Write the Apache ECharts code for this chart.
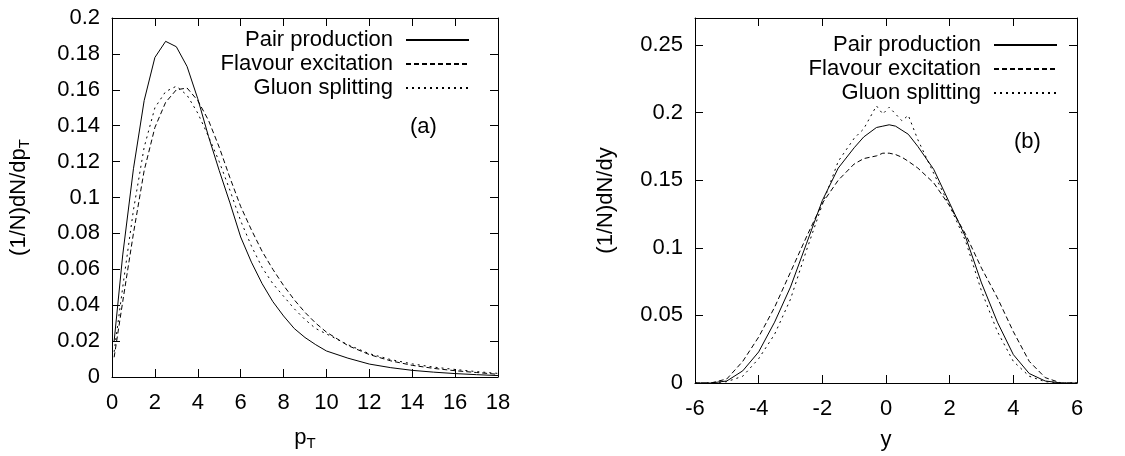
<!DOCTYPE html>
<html>
<head>
<meta charset="utf-8">
<script src="https://cdn.jsdelivr.net/npm/echarts@6/dist/echarts.min.js"></script>
<style>
html,body{margin:0;padding:0;background:#fff;}
#chart{width:1125px;height:456px;}
</style>
</head>
<body>
<div id="chart"></div>
<script>
// ---- Data ----
const seriesNames = ['Pair production', 'Flavour excitation', 'Gluon splitting'];

// Panel (a): pT distribution
const ptValues = [0.1, 0.5, 1, 1.5, 2, 2.5, 3, 3.5, 4, 4.5, 5, 5.5, 6, 6.5, 7, 7.5, 8, 8.5, 9, 9.5, 10, 11, 12, 13, 14, 15, 16, 17, 18];
const pairPt = [0.020, 0.068, 0.116, 0.154, 0.178, 0.187, 0.184, 0.173, 0.155, 0.134, 0.115, 0.097, 0.078, 0.064, 0.052, 0.042, 0.034, 0.027, 0.022, 0.018, 0.0145, 0.0105, 0.0072, 0.0052, 0.0037, 0.0027, 0.0019, 0.0013, 0.0008];
const flavourPt = [0.011, 0.042, 0.080, 0.115, 0.139, 0.153, 0.160, 0.161, 0.154, 0.143, 0.128, 0.111, 0.095, 0.082, 0.070, 0.060, 0.051, 0.043, 0.036, 0.030, 0.025, 0.0175, 0.0125, 0.009, 0.0065, 0.0048, 0.0035, 0.0025, 0.0015];
const gluonPt = [0.014, 0.050, 0.093, 0.128, 0.150, 0.159, 0.162, 0.157, 0.147, 0.134, 0.120, 0.104, 0.087, 0.073, 0.061, 0.052, 0.045, 0.038, 0.032, 0.027, 0.024, 0.018, 0.013, 0.0097, 0.0073, 0.0055, 0.0042, 0.003, 0.002];

// Panel (b): rapidity distribution
const yValues = [-6, -5.5, -5, -4.5, -4, -3.5, -3, -2.5, -2, -1.5, -1, -0.7, -0.3, -0.1, 0.1, 0.3, 0.5, 0.7, 1, 1.5, 2, 2.5, 3, 3.5, 4, 4.5, 5, 5.5, 6];
const pairY = [0, 0, 0.0015, 0.009, 0.023, 0.045, 0.071, 0.103, 0.135, 0.159, 0.174, 0.182, 0.189, 0.190, 0.191, 0.190, 0.187, 0.184, 0.175, 0.158, 0.133, 0.108, 0.074, 0.045, 0.021, 0.007, 0.0015, 0, 0];
const flavourY = [0, 0, 0.003, 0.016, 0.034, 0.056, 0.082, 0.108, 0.133, 0.150, 0.162, 0.166, 0.168, 0.170, 0.170, 0.169, 0.167, 0.164, 0.159, 0.148, 0.131, 0.110, 0.085, 0.063, 0.038, 0.016, 0.004, 0, 0];
const gluonY = [0, 0, 0.001, 0.005, 0.018, 0.036, 0.062, 0.098, 0.132, 0.164, 0.181, 0.188, 0.205, 0.199, 0.204, 0.199, 0.194, 0.198, 0.180, 0.155, 0.131, 0.105, 0.068, 0.038, 0.016, 0.005, 0.001, 0, 0];

// Tick settings
const ptTicks = {min: 0, max: 18, interval: 2};
const dndptTicks = {min: 0, max: 0.2, interval: 0.02};
const yTicks = {min: -6, max: 6, interval: 2};
const dndyTicks = {min: 0, max: 0.27, interval: 0.05};

// ---- Chart ----
const FONT = 'Liberation Sans, Arial, Helvetica, sans-serif';
const FS = 22;
const lineTypes = ['solid', [5, 3], [2, 4]];

function zip(xs, ys) { return xs.map((x, i) => [x, ys[i]]); }

const subRich = {sub: {fontSize: 15, fontFamily: FONT, color: '#000', verticalAlign: 'bottom', padding: [12, 0, 0, 0]}};

function xAxisPair(gridIndex, t, name, gap) {
  const common = {
    type: 'value', gridIndex: gridIndex, min: t.min, max: t.max, interval: t.interval,
    splitLine: {show: false},
    axisLine: {show: true, onZero: false, lineStyle: {color: '#000', width: 1}},
    axisTick: {show: true, inside: true, length: 8, lineStyle: {color: '#000', width: 1}}
  };
  return [
    Object.assign({}, common, {
      position: 'bottom',
      axisLabel: {color: '#000', fontSize: FS, fontFamily: FONT, margin: 15},
      name: name, nameLocation: 'middle', nameGap: gap,
      nameTextStyle: {color: '#000', fontSize: FS, fontFamily: FONT, rich: subRich}
    }),
    Object.assign({}, common, {position: 'top', axisLabel: {show: false}})
  ];
}
function yAxisPair(gridIndex, t, name, gap) {
  const common = {
    type: 'value', gridIndex: gridIndex, min: t.min, max: t.max, interval: t.interval,
    splitLine: {show: false},
    axisLine: {show: true, onZero: false, lineStyle: {color: '#000', width: 1}},
    axisTick: {show: true, inside: true, length: 8, lineStyle: {color: '#000', width: 1}}
  };
  return [
    Object.assign({}, common, {
      position: 'left',
      axisLabel: {color: '#000', fontSize: FS, fontFamily: FONT, margin: 12, showMaxLabel: t.max === 0.2},
      name: name, nameLocation: 'middle', nameGap: gap, nameRotate: 90,
      nameTextStyle: {color: '#000', fontSize: FS, fontFamily: FONT, rich: subRich}
    }),
    Object.assign({}, common, {position: 'right', axisLabel: {show: false}})
  ];
}

function makeSeries(names, xs, ysList, xi, yi) {
  return names.map((n, k) => ({
    type: 'line', name: n, xAxisIndex: xi, yAxisIndex: yi,
    data: zip(xs, ysList[k]), showSymbol: false, symbol: 'none',
    smooth: false, animation: false,
    lineStyle: {color: '#000', width: 1, type: lineTypes[k]},
    itemStyle: {color: '#000'}
  }));
}

function legendFor(right, top) {
  return {
    data: seriesNames, orient: 'vertical', align: 'right', right: right, top: top,
    padding: 0,
    itemWidth: 63, itemHeight: 12, itemGap: 2, selectedMode: false,
    itemStyle: {color: 'rgba(0,0,0,0)', borderColor: 'rgba(0,0,0,0)', borderWidth: 0, opacity: 0},
    textStyle: {color: '#000', fontSize: FS, fontFamily: FONT, padding: [0, 8, 0, 0], lineHeight: 22}
  };
}

const chart = echarts.init(document.getElementById('chart'), null, {renderer: 'canvas'});
chart.setOption({
  backgroundColor: '#fff',
  animation: false,
  grid: [
    {left: 112, top: 18, width: 386, height: 365},
    {left: 695, top: 18, width: 382, height: 365}
  ],
  xAxis: [].concat(xAxisPair(0, ptTicks, 'p{sub|T}', 47), xAxisPair(1, yTicks, 'y', 46)),
  yAxis: [].concat(yAxisPair(0, dndptTicks, '(1/N)dN/dp{sub|T}', 80), yAxisPair(1, dndyTicks, '(1/N)dN/dy', 78)),
  legend: [legendFor(655, 29), legendFor(67, 34)],
  series: [].concat(
    makeSeries(seriesNames, ptValues, [pairPt, flavourPt, gluonPt], 0, 0),
    makeSeries(seriesNames, yValues, [pairY, flavourY, gluonY], 2, 2)
  ),
  graphic: [
    {type: 'text', left: 410, top: 116, style: {text: '(a)', fontSize: FS, fontFamily: FONT, fill: '#000'}},
    {type: 'text', left: 1014, top: 131, style: {text: '(b)', fontSize: FS, fontFamily: FONT, fill: '#000'}}
  ]
});
</script>
</body>
</html>
